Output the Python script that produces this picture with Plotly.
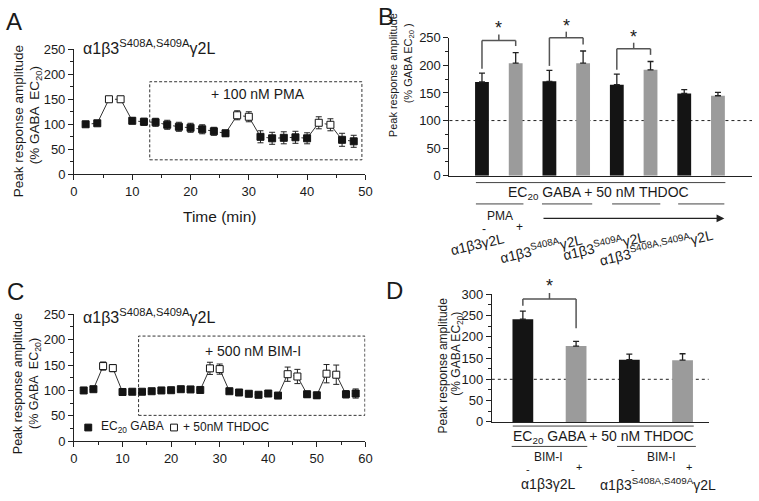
import plotly.graph_objects as go

W, H = 759, 501
FONT = "Liberation Sans, Arial, sans-serif"
TXT = "#1a1a1a"

# ---------------- Data ----------------
# Panel A: time course, α1β3(S408A,S409A)γ2L + PMA
a_time = [2, 4, 6, 8, 10, 12, 14, 16, 18, 20, 22, 24, 26, 28, 30, 32, 34, 36, 38, 40, 42, 44, 46, 48]
a_mean = [100, 102, 150, 150, 107, 105, 104, 99, 95, 93, 90, 86, 82, 118, 115, 75, 72, 73, 74, 72, 103, 99, 69, 66]
a_err = [2, 2, 3, 2, 6, 7, 8, 9, 9, 9, 9, 8, 6, 9, 10, 12, 12, 12, 12, 11, 12, 12, 13, 12]
a_thdoc = [0, 0, 1, 1, 0, 0, 0, 0, 0, 0, 0, 0, 0, 1, 1, 0, 0, 0, 0, 0, 1, 1, 0, 0]

# Panel B: bar chart (black = -PMA, gray = +PMA)
b_groups = ["α1β3γ2L", "α1β3<sup>S408A</sup>γ2L", "α1β3<sup>S409A</sup>γ2L",
            "α1β3<sup>S408A,S409A</sup>γ2L"]
b_mean = [170, 204, 171, 204, 165, 192, 149, 145]
b_err = [16, 19, 20, 22, 19, 15, 7, 6]

# Panel C: time course + BIM-I
c_time = [2, 4, 6, 8, 10, 12, 14, 16, 18, 20, 22, 24, 26, 28, 30, 32, 34, 36, 38, 40,
          42, 44, 46, 48, 50, 52, 54, 56, 58]
c_mean = [100, 102.5, 148, 144, 97, 97.5, 97.5, 98.5, 100, 100.5, 102.5, 102, 101, 143.5, 142,
          98.5, 96, 93.5, 91.5, 94, 90, 132, 127.5, 92.5, 90.5, 133, 131, 92.5, 94]
c_err = [2, 2, 8, 7, 2, 2, 2, 2, 2, 2, 2, 2, 2, 12, 10, 4, 3, 3, 3, 3, 2, 14, 14, 6, 6, 18, 19, 7, 9]
c_thdoc = [0, 0, 1, 1, 0, 0, 0, 0, 0, 0, 0, 0, 0, 1, 1, 0, 0, 0, 0, 0, 0, 1, 1, 0, 0, 1, 1, 0, 0]

# Panel D: bar chart (black = -BIM-I, gray = +BIM-I)
d_groups = ["α1β3γ2L", "α1β3<sup>S408A,S409A</sup>γ2L"]
d_mean = [241, 178, 146, 145]
d_err = [19, 11, 13, 15]

BLACK = "#141414"
GRAY = "#9b9b9b"


def px(x):
    return x / W


def py(y):
    return 1 - y / H


fig = go.Figure()


def time_course(t, m, e, flag, xa, ya):
    n = len(t)
    dx, dy, sx, sy = [], [], [], []
    for i in range(n - 1):
        if flag[i] == flag[i + 1]:
            dx += [t[i], t[i + 1], None]
            dy += [m[i], m[i + 1], None]
        else:
            sx += [t[i], t[i + 1], None]
            sy += [m[i], m[i + 1], None]
    fig.add_trace(go.Scatter(x=dx, y=dy, mode="lines", xaxis=xa, yaxis=ya,
                             line=dict(color="#333", width=1, dash="dot"), showlegend=False))
    fig.add_trace(go.Scatter(x=sx, y=sy, mode="lines", xaxis=xa, yaxis=ya,
                             line=dict(color="#333", width=1), showlegend=False))
    for f, fill in [(0, BLACK), (1, "white")]:
        idx = [i for i in range(n) if flag[i] == f]
        fig.add_trace(go.Scatter(
            x=[t[i] for i in idx], y=[m[i] for i in idx], mode="markers",
            xaxis=xa, yaxis=ya, showlegend=False, cliponaxis=False,
            marker=dict(symbol="square", size=7, color=fill, line=dict(color=BLACK, width=1)),
            error_y=dict(type="data", array=[e[i] for i in idx], color="#222", thickness=1, width=3)))


time_course(a_time, a_mean, a_err, a_thdoc, "x", "y")
time_course(c_time, c_mean, c_err, c_thdoc, "x3", "y3")

# Bars B
fig.add_trace(go.Bar(x=list(range(len(b_mean))), y=b_mean, width=0.41, xaxis="x2", yaxis="y2",
                     marker=dict(color=[BLACK if i % 2 == 0 else GRAY for i in range(len(b_mean))],
                                 line=dict(width=0)),
                     error_y=dict(type="data", array=b_err, arrayminus=[0] * len(b_err), symmetric=False,
                                  color="#222", thickness=1.3, width=3),
                     showlegend=False))
# Bars D
fig.add_trace(go.Bar(x=list(range(len(d_mean))), y=d_mean, width=0.39, xaxis="x4", yaxis="y4",
                     marker=dict(color=[BLACK if i % 2 == 0 else GRAY for i in range(len(d_mean))],
                                 line=dict(width=0)),
                     error_y=dict(type="data", array=d_err, arrayminus=[0] * len(d_err), symmetric=False,
                                  color="#222", thickness=1.3, width=3),
                     showlegend=False))

tickfont = dict(family=FONT, size=13, color=TXT)


def yax(dom, rng, dt, anchor):
    return dict(domain=dom, range=rng, dtick=dt, tick0=0, showline=True, linecolor="#222", linewidth=1,
                ticks="outside", ticklen=5, tickcolor="#222", showgrid=False, zeroline=False,
                tickfont=tickfont, anchor=anchor, fixedrange=True,
                minor=dict(dtick=dt / 2, ticks="outside", ticklen=3, tickcolor="#222", showgrid=False))


def xax_time(dom, rng, anchor):
    return dict(domain=dom, range=rng, dtick=10, tick0=0, showline=True, linecolor="#222", linewidth=1,
                ticks="outside", ticklen=5, tickcolor="#222", showgrid=False, zeroline=False,
                tickfont=tickfont, anchor=anchor,
                minor=dict(dtick=5, ticks="outside", ticklen=3, tickcolor="#222", showgrid=False))


def xax_bar(dom, rng, anchor):
    return dict(domain=dom, range=rng, showline=True, linecolor="#222", linewidth=1, ticks="",
                showticklabels=False, showgrid=False, zeroline=False, anchor=anchor)


B_DOM = [py(174), py(31.7)]
B_RNG = [0, 250]
D_DOM = [py(427.7), py(296)]
D_RNG = [0, 300]

fig.update_layout(
    width=W, height=H, margin=dict(l=0, r=0, t=0, b=0),
    paper_bgcolor="white", plot_bgcolor="rgba(0,0,0,0)", showlegend=False, barmode="overlay",
    xaxis=xax_time([px(71), px(366.7)], [0, 50], "y"),
    yaxis=yax([py(172.5), py(43.5)], [0, 250], 50, "x"),
    xaxis2=xax_bar([px(452), 1.0], [-0.965, 8.01], "y2"),
    yaxis2=yax(B_DOM, B_RNG, 50, "x2"),
    xaxis3=xax_time([px(71), px(366.7)], [0, 60], "y3"),
    yaxis3=yax([py(447.7), py(316.7)], [0, 250], 50, "x3"),
    xaxis4=xax_bar([px(495), px(715)], [-0.583, 3.49], "y4"),
    yaxis4=yax(D_DOM, D_RNG, 50, "x4"),
)

shapes = []
ann = []


def text(t, x, y, size=13, xref="paper", yref="paper", **kw):
    d = dict(text=t, x=x, y=y, xref=xref, yref=yref, showarrow=False,
             font=dict(family=FONT, size=size, color=TXT), xanchor="center", yanchor="middle")
    d.update(kw)
    ann.append(d)


def line(x0, y0, x1, y1, xref="paper", yref="paper", color="#222", width=1, dash=None, layer="above"):
    ln = dict(color=color, width=width)
    if dash:
        ln["dash"] = dash
    shapes.append(dict(type="line", x0=x0, y0=y0, x1=x1, y1=y1, xref=xref, yref=yref, line=ln, layer=layer))


# Panel letters
text("A", px(10), py(15), size=24)
text("B", px(388), py(10), size=24)
text("C", px(12), py(293), size=24)
text("D", px(396), py(292), size=24)

# Y axis titles
sub20 = "EC<sub>20</sub>"
text("Peak response amplitude", px(15), py(118), size=13.5, textangle=-90)
text("(% GABA  " + sub20 + ")", px(32), py(112), size=13.5, textangle=-90)
text("Peak response amplitude", px(395), py(70), size=11, textangle=-90)
text("(% GABA " + sub20 + " )", px(411), py(58), size=11, textangle=-90)
text("Peak response amplitude", px(15), py(388), size=12.5, textangle=-90)
text("(% GABA  " + sub20 + ")", px(32), py(388), size=12.5, textangle=-90)
text("Peak response amplitude", px(445), py(370), size=12, textangle=-90)
text("(% GABA " + sub20 + ")", px(460), py(357), size=12, textangle=-90)

# Panel A extras
text("α1β3<sup>S408A,S409A</sup>γ2L", px(78), py(41), size=16, xanchor="left")
text("Time (min)", px(219), py(216), size=15.5)
shapes.append(dict(type="rect", xref="x", yref="y", x0=13, x1=49.4, y0=29, y1=185,
                   line=dict(color="#333", width=1, dash="3px,2px")))
text("+ 100 nM PMA", 31.6, 160, size=14, xref="x", yref="y")

# Panel C extras
text("α1β3<sup>S408A,S409A</sup>γ2L", px(78), py(319), size=16, xanchor="left")
shapes.append(dict(type="rect", xref="x3", yref="y3", x0=13.3, x1=59.9, y0=51, y1=207,
                   line=dict(color="#333", width=1, dash="3px,2px")))
text("+ 500 nM BIM-I", 36.9, 178, size=14, xref="x3", yref="y3")
shapes.append(dict(type="rect", xref="paper", yref="paper", x0=px(82), x1=px(89), y0=py(437), y1=py(430),
                   fillcolor=BLACK, line=dict(color=BLACK, width=1)))
text("EC<sub>20</sub> GABA", px(96), py(433), size=12, xanchor="left")
shapes.append(dict(type="rect", xref="paper", yref="paper", x0=px(169), x1=px(176), y0=py(437), y1=py(430),
                   fillcolor="white", line=dict(color=BLACK, width=1)))
text("+ 50nM THDOC", px(180), py(433), size=12, xanchor="left")


def yp(v, dom, rng):
    return dom[0] + (v - rng[0]) / (rng[1] - rng[0]) * (dom[1] - dom[0])


# Panel B reference line and brackets
line(0, 100, 1, 100, xref="x2 domain", yref="y2", width=1, dash="dot", layer="below")


def bracket(i, j, top, means, errs, xr, dom, rng, gap_i, gap_j, tick, star_off):
    yi = yp(means[i] + errs[i] + gap_i, dom, rng)
    yj = yp(means[j] + errs[j] + gap_j, dom, rng)
    yt = yp(top, dom, rng)
    yk = yp(top + tick, dom, rng)
    c = "#555"
    line(i, yi, i, yt, xref=xr, color=c, width=1.5)
    line(j, yj, j, yt, xref=xr, color=c, width=1.5)
    line(i, yt, j, yt, xref=xr, color=c, width=1.5)
    line((i + j) / 2, yt, (i + j) / 2, yk, xref=xr, color=c, width=1.5)
    text("*", (i + j) / 2, yp(top + star_off, dom, rng), size=18, xref=xr)


bracket(0, 1, 245, b_mean, b_err, "x2", B_DOM, B_RNG, 8, 12, 11, 22)
bracket(2, 3, 250, b_mean, b_err, "x2", B_DOM, B_RNG, 8, 12, 11, 22)
bracket(4, 5, 230, b_mean, b_err, "x2", B_DOM, B_RNG, 8, 12, 11, 22)

# Panel B labels below axis
line(-0.18, py(181), 7.22, py(181), xref="x2", color="#444")
text(sub20 + " GABA + 50 nM THDOC", 3.45, py(192), size=14, xref="x2")
for a, b in [(-0.18, 1.23), (1.78, 3.27), (3.86, 5.29), (5.82, 7.19)]:
    line(a, py(203), b, py(203), xref="x2", color="#444")
text("PMA", 0.53, py(215), size=12, xref="x2")
ann.append(dict(x=7.19, y=py(218), xref="x2", yref="paper", ax=1.78, axref="x2", ay=0, ayref="pixel",
                text="", showarrow=True, arrowhead=2, arrowsize=1.2, arrowwidth=1.3, arrowcolor="#222"))
text("-", 0.06, py(229), size=12, xref="x2")
text("+", 1.11, py(227), size=12, xref="x2")
for k, (xc, yc) in enumerate([(-0.12, 244), (1.75, 248), (3.63, 245), (5.15, 247)]):
    text(b_groups[k], xc, py(yc), size=14, xref="x2", textangle=-13)

# Panel D
line(0, 100, 1, 100, xref="x4 domain", yref="y4", width=1, dash="dot", layer="below")
bracket(0, 1, 288.6, d_mean, d_err, "x4", D_DOM, D_RNG, 13, 31, 14, 30)
line(-0.19, py(432), 3.21, py(432), xref="x4", color="#444")
text(sub20 + " GABA + 50 nM THDOC", 1.52, py(443), size=14, xref="x4")
for a, b in [(-0.21, 1.21), (1.77, 3.25)]:
    line(a, py(453), b, py(453), xref="x4", color="#444")
text("BIM-I", 0.49, py(464), size=12, xref="x4")
text("BIM-I", 2.6, py(464), size=12, xref="x4")
text("-", 0.1, py(476), size=11, xref="x4")
text("+", 1.06, py(474), size=11, xref="x4")
text("-", 2.06, py(476), size=11, xref="x4")
text("+", 3.12, py(474), size=11, xref="x4")
text(d_groups[0], 0.49, py(492), size=14, xref="x4")
text(d_groups[1], 2.53, py(492), size=14, xref="x4")

fig.update_layout(shapes=shapes, annotations=ann)
fig.write_html("out.html", config={"displayModeBar": False},
               post_script="document.body.style.margin='0';")
